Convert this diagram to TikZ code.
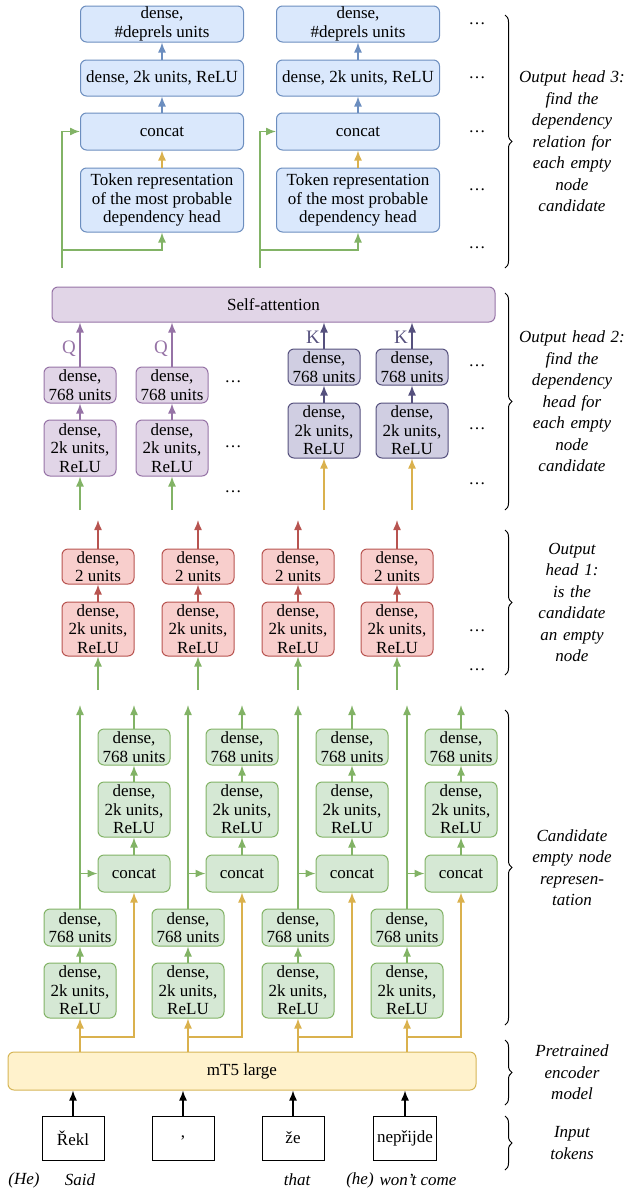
\documentclass[tikz,border=0pt]{standalone}
\usepackage{fontspec}
\setmainfont{Liberation Serif}
\usetikzlibrary{decorations.pathreplacing, arrows.meta}

\definecolor{gfill}{HTML}{D5E8D4}\definecolor{gline}{HTML}{82B366}
\definecolor{rfill}{HTML}{F8CECC}\definecolor{rline}{HTML}{B85450}
\definecolor{bfill}{HTML}{DAE8FC}\definecolor{bline}{HTML}{6C8EBF}
\definecolor{pfill}{HTML}{E1D5E7}\definecolor{pline}{HTML}{9673A6}
\definecolor{kfill}{HTML}{D0CEE2}\definecolor{kline}{HTML}{56517E}
\definecolor{yfill}{HTML}{FFF2CC}\definecolor{yline}{HTML}{D6B656}

\begin{document}
\begin{tikzpicture}[x=1pt,y=-1pt,font=\fontsize{17}{18.5}\selectfont]

        % Setup the styles
        \tikzset{box/.style={draw, rounded corners=6pt, align=center, inner sep=1pt,
                             minimum width=72pt, line width=1pt},
                 gbox/.style={box, fill=gfill, draw=gline},
                 rbox/.style={box, fill=rfill, draw=rline},
                 bbox/.style={box, fill=bfill, draw=bline, minimum width=163pt},
                 pbox/.style={box, fill=pfill, draw=pline},
                 kbox/.style={box, fill=kfill, draw=kline},
                 arr/.style={-{Latex[length=10pt,width=8pt]}, line width=1.4pt},
                 garr/.style={arr, draw=gline},
                 yarr/.style={arr, draw=yline!90!orange},
                 dots/.style={font=\fontsize{17}{18}\selectfont},
                 gloss/.style={font=\itshape\fontsize{17}{18}\selectfont},
                 lbl/.style={font=\itshape\fontsize{17}{21.5}\selectfont, align=center, text width=115pt},
                 brc/.style={decorate, decoration={brace, amplitude=7pt}, line width=1pt}}

        \useasboundingbox (0,0) rectangle (626,1200);

        % Input tokens and encoder
        \node[box, fill=yfill, draw=yline, minimum width=468pt, minimum height=38pt] at (242,1071) (mt) {mT5 large};
        \foreach \i/\x/\w in {0/73/Řekl, 1/183/{,}, 2/293/že, 3/405/nepřijde}{
          \node[draw, line width=1pt, minimum width=62pt, minimum height=44pt] at (\x,1138) (t\i) {\w};
          \draw[arr] (t\i) -- (t\i |- mt.south);
        }
        \node[gloss] at (24,1180) (g0) {(He)};
        \node[gloss] at (80,1180) (g1) {Said};
        \node[gloss] at (297,1180) (g2) {that};
        \node[gloss] at (360,1180) (g3) {(he)};
        \node[gloss] at (418,1180) (g4) {won't come};

        % Candidate empty node representation
        \foreach \i/\x in {0/80, 1/188, 2/298, 3/407}{
          \node[gbox, minimum height=55pt] at (\x,990.5) (lr\i) {dense,\\2k units,\\ReLU};
          \node[gbox, minimum height=37pt] at (\x,927.5) (ld\i) {dense,\\768 units};
          \node[gbox, minimum height=37pt] at (\x+54,873.5) (cc\i) {concat};
          \node[gbox, minimum height=55pt] at (\x+54,809.5) (rr\i) {dense,\\2k units,\\ReLU};
          \node[gbox, minimum height=36pt] at (\x+54,747) (rd\i) {dense,\\768 units};
          \coordinate (lt\i) at (\x,705);
          \coordinate (rt\i) at (\x+54,705);
          \coordinate (sp\i) at (\x,1037);
          \draw[yarr] (lr\i.south |- mt.north) -- (lr\i);
          \draw[yarr] (sp\i) -| (cc\i.south);
          \draw[garr] (lr\i) -- (ld\i);
          \draw[garr] (ld\i) -- (lt\i);
          \draw[garr] (ld\i.north |- cc\i) -- (cc\i.west);
          \draw[garr] (cc\i) -- (rr\i);
          \draw[garr] (rr\i) -- (rd\i);
          \draw[garr] (rd\i) -- (rt\i);
        }

        % Output head 1
        \foreach \i/\x in {0/98, 1/198, 2/298, 3/397}{
          \node[rbox, minimum height=54pt] at (\x,629) (ha\i) {dense,\\2k units,\\ReLU};
          \node[rbox, minimum height=35pt] at (\x,566.5) (hb\i) {dense,\\2 units};
          \coordinate (hi\i) at (\x,690);
          \coordinate (ho\i) at (\x,520);
          \draw[garr] (hi\i) -- (ha\i);
          \draw[arr, draw=rline] (ha\i) -- (hb\i);
          \draw[arr, draw=rline] (hb\i) -- (ho\i);
        }
        \node[dots] at (477,631) (e1) {\dots};
        \node[dots] at (477,670) (e2) {\dots};

        % Output head 2
        \node[pbox, minimum width=443pt, minimum height=35pt] at (273.5,304.5) (att) {Self-attention};
        \foreach \i/\x in {0/80, 1/172}{
          \node[pbox, minimum height=56pt] at (\x,448) (qa\i) {dense,\\2k units,\\ReLU};
          \node[pbox, minimum height=36pt] at (\x,385) (qb\i) {dense,\\768 units};
          \coordinate (qi\i) at (\x,510);
          \draw[garr] (qi\i) -- (qa\i);
          \draw[arr, draw=pline] (qa\i) -- (qb\i);
          \draw[arr, draw=pline] (qb\i) -- node[left, pos=0.4, text=pline, font=\fontsize{19}{20}\selectfont] {Q} (qb\i |- att.south);
        }
        \foreach \i/\x in {0/324, 1/412}{
          \node[kbox, minimum height=55pt] at (\x,430.5) (ka\i) {dense,\\2k units,\\ReLU};
          \node[kbox, minimum height=36pt] at (\x,367) (kb\i) {dense,\\768 units};
          \coordinate (ki\i) at (\x,510);
          \draw[yarr] (ki\i) -- (ka\i);
          \draw[arr, draw=kline] (ka\i) -- (kb\i);
          \draw[arr, draw=kline] (kb\i) -- node[left, pos=0.45, text=kline, font=\fontsize{19}{20}\selectfont] {K} (kb\i |- att.south);
        }
        \foreach \y [count=\n] in {382, 447, 492}
          \node[dots] at (233,\y) (m\n) {\dots};
        \foreach \y [count=\n] in {366, 429, 484}
          \node[dots] at (477,\y) (f\n) {\dots};

        % Output head 3
        \foreach \i/\x/\o in {0/162/100, 1/358/98}{
          \node[bbox, minimum height=36pt] at (\x,24) (da\i) {dense,\\\#deprels units};
          \node[bbox, minimum height=36pt] at (\x,78) (db\i) {dense, 2k units, ReLU};
          \node[bbox, minimum height=37pt] at (\x,131.5) (dc\i) {concat};
          \node[bbox, minimum height=64pt] at (\x,200) (dt\i) {Token representation\\of the most probable\\dependency head};
          \coordinate (ga\i) at (\x-\o,268);
          \coordinate (gb\i) at (\x-\o,250);
          \draw[garr] (ga\i) |- (dc\i.west);
          \draw[garr] (gb\i) -| (dt\i.south);
          \draw[yarr] (dt\i) -- (dc\i);
          \draw[arr, draw=bline] (dc\i) -- (db\i);
          \draw[arr, draw=bline] (db\i) -- (da\i);
        }
        \foreach \y [count=\n] in {24, 78, 132, 190, 248}
          \node[dots] at (477,\y) (d\n) {\dots};

        % Braces and their labels
        \foreach \a/\b/\t in {15/268/{Output head 3:\\find the\\dependency\\relation for\\each empty\\node\\candidate},
                              293/510/{Output head 2:\\find the\\dependency\\head for\\each empty\\node\\candidate},
                              530/675/{Output\\head 1:\\is the\\candidate\\an empty\\node},
                              710/1025/{Candidate\\empty node\\represen-\\tation},
                              1040/1105/{Pretrained\\encoder\\model},
                              1116/1170/{Input\\tokens}}{
          \draw[brc] (505,\a) -- (505,\b);
          \node[lbl] at (572,{(\a+\b)/2}) {\t};
        }
    \end{tikzpicture}
\end{document}
